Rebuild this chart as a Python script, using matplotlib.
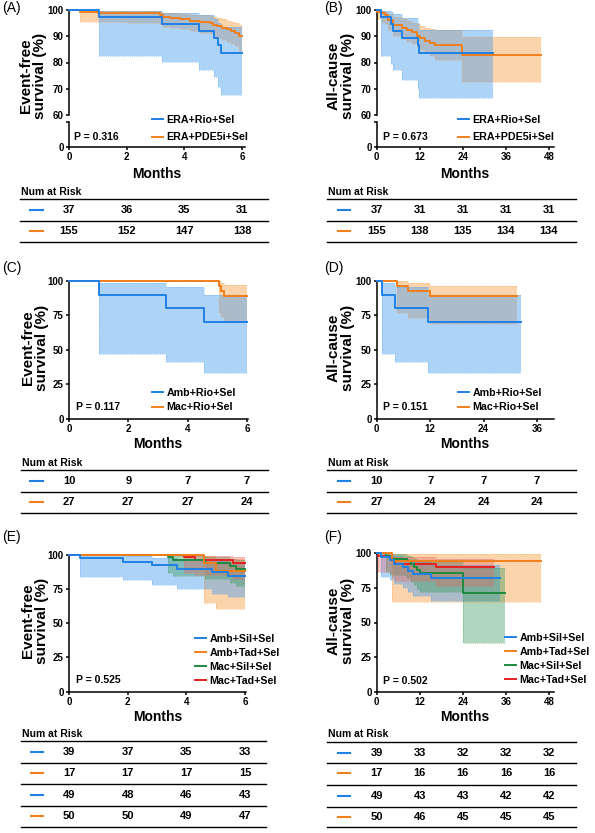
import matplotlib
matplotlib.use("Agg")
import matplotlib.pyplot as plt
from matplotlib.lines import Line2D
from matplotlib import transforms

plt.rcParams['font.family'] = ['Liberation Sans', 'DejaVu Sans']
plt.rcParams['font.weight'] = 'bold'
plt.rcParams['axes.labelweight'] = 'bold'

W, H = 595, 833
BLUE, ORANGE, GREEN, RED = '#2080e6', '#f07f1c', '#1e8a40', '#e62020'
FILLS = {BLUE: ('#4a9eef', 0.45), ORANGE: ('#f8a047', 0.45),
         GREEN: ('#3a9a5a', 0.40), RED: ('#f06060', 0.35)}
LINE_Z = {RED: 3.0, GREEN: 3.1, ORANGE: 3.2, BLUE: 3.3}

# ---------------- data ----------------
# panel A : event-free, months
A_rio_t = [1.04, 3.24, 4.51, 5.04, 5.17, 5.26]
A_rio_s = [97.3, 94.6, 91.9, 89.2, 86.5, 83.8]
A_rio_lo = [82.4, 80.2, 77.1, 74.6, 70.8, 67.6]
A_rio_hi = [99.6, 99.0, 98.0, 96.5, 95.0, 93.5]
A_rio_end = 6.0
A_pde_t = [0.38, 1.0, 2.0, 3.16, 3.27, 3.5, 3.85, 4.2, 4.54, 4.89, 5.0, 5.12, 5.3, 5.47, 5.6, 5.76, 5.9]
A_pde_s = [99.4, 99.0, 98.7, 98.0, 97.4, 97.0, 96.6, 96.0, 95.6, 95.0, 94.4, 93.8, 93.2, 92.6, 92.0, 91.3, 90.0]
A_pde_lo = [95.6, 95.4, 95.0, 94.3, 93.6, 93.1, 92.6, 91.9, 91.4, 90.7, 90.0, 89.3, 88.6, 87.9, 87.2, 86.4, 84.5]
A_pde_hi = [99.9, 99.8, 99.6, 99.3, 99.0, 98.8, 98.6, 98.2, 98.0, 97.6, 97.2, 96.8, 96.4, 96.0, 95.6, 95.0, 94.2]
A_pde_end = 6.0
A_ticks = [0, 2, 4, 6]
A_risk = [[37, 36, 35, 31], [155, 152, 147, 138]]

# panel B : all-cause, months
B_rio_t = [1.1, 3.9, 4.6, 7.0, 11.4, 11.9]
B_rio_s = [97.3, 94.6, 91.9, 89.2, 86.5, 83.8]
B_rio_lo = [82.3, 79.5, 77.1, 73.5, 70.0, 66.5]
B_rio_hi = [99.6, 99.2, 98.5, 97.0, 95.0, 92.4]
B_rio_end = 32.3
B_pde_t = [0.18, 1.39, 2.3, 3.24, 4.6, 6.96, 8.35, 9.74, 11.13, 12.06, 13.45, 14.85, 16.24, 23.9]
B_pde_s = [99.4, 98.7, 98.1, 96.2, 94.3, 93.3, 92.4, 91.5, 90.2, 89.2, 88.2, 87.6, 86.7, 83.0]
B_pde_lo = [96.4, 95.2, 94.5, 92.3, 90.2, 89.0, 88.0, 87.0, 86.0, 84.6, 83.5, 82.5, 80.8, 72.4]
B_pde_hi = [99.9, 99.7, 99.4, 98.4, 97.3, 96.6, 95.9, 95.2, 94.5, 93.8, 93.2, 92.8, 92.5, 89.8]
B_pde_end = 45.7
B_ticks = [0, 12, 24, 36, 48]
B_risk = [[37, 31, 31, 31, 31], [155, 138, 135, 134, 134]]

# panel C : event-free, months
C_amb_t = [1.02, 3.26, 4.54]
C_amb_s = [90.0, 80.0, 70.0]
C_amb_lo = [47.3, 41.0, 32.9]
C_amb_hi = [98.6, 95.2, 89.6]
C_amb_end = 6.0
C_mac_t = [5.06, 5.13, 5.21]
C_mac_s = [96.3, 92.6, 88.9]
C_mac_lo = [76.5, 73.5, 71.0]
C_mac_hi = [99.5, 98.1, 96.6]
C_mac_end = 6.0
C_ticks = [0, 2, 4, 6]
C_risk = [[10, 9, 7, 7], [27, 27, 27, 24]]

# panel D : all-cause, months
D_amb_t = [1.1, 4.0, 11.6]
D_amb_s = [90.0, 80.0, 70.0]
D_amb_lo = [47.3, 41.0, 32.9]
D_amb_hi = [98.6, 95.2, 89.6]
D_amb_end = 32.4
D_mac_t = [4.5, 7.0, 12.0]
D_mac_s = [96.3, 92.6, 88.9]
D_mac_lo = [76.5, 72.8, 68.7]
D_mac_hi = [99.5, 98.1, 96.4]
D_mac_end = 31.4
D_ticks = [0, 12, 24, 36]
D_risk = [[10, 7, 7, 7], [27, 24, 24, 24]]

# panel E : event-free, months
E_ambsil_t = [0.37, 1.85, 2.84, 3.69, 4.86, 5.43]
E_ambsil_s = [97.4, 94.9, 92.3, 89.7, 87.2, 84.6]
E_ambsil_lo = [83.5, 81.3, 78.1, 75.2, 71.6, 68.9]
E_ambsil_hi = [99.6, 98.9, 97.9, 96.6, 95.3, 93.8]
E_ambtad_t = [4.6, 5.02]
E_ambtad_s = [94.1, 88.2]
E_ambtad_lo = [65.0, 60.6]
E_ambtad_hi = [99.2, 96.9]
E_macsil_t = [3.36, 3.55, 4.62, 5.5, 5.68]
E_macsil_s = [98.0, 95.9, 93.9, 91.8, 89.8]
E_macsil_lo = [86.4, 84.4, 82.0, 79.4, 76.8]
E_macsil_hi = [99.7, 99.0, 98.0, 96.9, 95.8]
E_mactad_t = [3.92, 4.3, 5.6]
E_mactad_s = [98.0, 96.0, 94.0]
E_mactad_lo = [86.6, 85.0, 82.5]
E_mactad_hi = [99.7, 99.0, 98.0]
E_end = [6.0, 6.0, 6.0, 6.0]
E_ticks = [0, 2, 4, 6]
E_risk = [[39, 37, 35, 33], [17, 17, 17, 15], [49, 48, 46, 43], [50, 50, 49, 47]]

# panel F : all-cause, months
F_ambsil_t = [1.3, 3.6, 4.8, 7.4, 8.6, 10.0, 15.0]
F_ambsil_s = [97.4, 94.9, 92.3, 89.7, 87.2, 84.6, 82.1]
F_ambsil_lo = [83.0, 80.8, 77.8, 75.0, 72.1, 69.0, 65.2]
F_ambsil_hi = [99.6, 98.9, 97.9, 96.6, 95.3, 93.6, 91.4]
F_ambtad_t = [4.3]
F_ambtad_s = [94.1]
F_ambtad_lo = [65.0]
F_ambtad_hi = [99.2]
F_macsil_t = [2.5, 3.8, 8.5, 9.5, 10.5, 11.3, 12.2, 24.0]
F_macsil_s = [98.0, 95.9, 93.9, 91.8, 89.8, 87.8, 85.7, 71.4]
F_macsil_lo = [86.4, 84.4, 82.0, 79.4, 76.8, 74.4, 72.0, 35.5]
F_macsil_hi = [99.7, 99.0, 98.0, 96.9, 95.8, 94.5, 93.2, 89.3]
F_mactad_t = [0.3, 4.0, 4.4, 5.0, 16.6]
F_mactad_s = [98.0, 96.0, 94.0, 92.0, 89.8]
F_mactad_lo = [86.6, 85.0, 82.7, 80.2, 76.5]
F_mactad_hi = [99.7, 99.0, 98.0, 96.9, 95.6]
F_end = [34.3, 45.8, 35.8, 32.6]
F_ticks = [0, 12, 24, 36, 48]
F_risk = [[39, 33, 32, 32, 32], [17, 16, 16, 16, 16], [49, 43, 43, 42, 42], [50, 46, 45, 45, 45]]

lab2_era = ['ERA+Rio+Sel', 'ERA+PDE5i+Sel']
lab2_mr = ['Amb+Rio+Sel', 'Mac+Rio+Sel']
lab4 = ['Amb+Sil+Sel', 'Amb+Tad+Sel', 'Mac+Sil+Sel', 'Mac+Tad+Sel']
risk_colors2 = [BLUE, ORANGE]
risk_colors4 = [BLUE, ORANGE, BLUE, ORANGE]

fig = plt.figure(figsize=(W / 100, H / 100), dpi=100)


def add_ax(x0, y0, x1, y1):
    return fig.add_axes([x0 / W, 1 - y1 / H, (x1 - x0) / W, (y1 - y0) / H])


def px(x, y):
    return x / W, 1 - y / H


def style(ax, xlim, ylim, yticks, xticks=None):
    for s in ['top', 'right']:
        ax.spines[s].set_visible(False)
    for s in ['left', 'bottom']:
        ax.spines[s].set_linewidth(1.1)
    ax.set_xlim(xlim)
    ax.set_ylim(ylim)
    ax.set_yticks(yticks)
    if xticks is None:
        ax.spines['bottom'].set_visible(False)
        ax.set_xticks([])
    else:
        ax.set_xticks(xticks)
    ax.tick_params(direction='out', length=2.5, width=1.1, labelsize=7, pad=1.2)


def draw_groups(ax, groups):
    # groups: list of (t, s, lo, hi, end, color); fills drawn first
    order = sorted(range(len(groups)), key=lambda i: [ORANGE, BLUE, GREEN, RED].index(groups[i][5]))
    for i in order:
        t, s, lo, hi, end, c = groups[i]
        tt = [0] + t + [end]
        lo2 = [100] + lo + [lo[-1]]
        hi2 = [100] + hi + [hi[-1]]
        fc, al = FILLS[c]
        ax.fill_between(tt, lo2, hi2, step='post', color=fc, alpha=al, lw=0)
        for edge in (lo2, hi2):
            ax.step(tt, edge, where='post', color=fc, lw=0.5, ls=':', alpha=0.8)
    lines = []
    for t, s, lo, hi, end, c in groups:
        tt = [0] + t + [end]
        ln, = ax.step(tt, [100] + s + [s[-1]], where='post', color=c, lw=1.4,
                      clip_on=False, zorder=LINE_Z[c])
        lines.append(ln)
    return lines


def legend(ax, lines, labels, x, y, spacing):
    ax.legend(lines, labels, loc='upper left', bbox_to_anchor=px(x, y), bbox_transform=fig.transFigure,
              frameon=False, borderpad=0, borderaxespad=0, handlelength=1.0, handletextpad=0.35,
              labelspacing=spacing, prop={'size': 7.7, 'weight': 'bold'})


def risk_table(ax, ticks, risk, colors, x0, x1, y_title, line_ys, row_ys, dash):
    fig.text(*px(x0 + 1, y_title), 'Num at Risk', fontsize=7.5, fontweight='bold', va='center', ha='left')
    for ly in line_ys:
        fig.add_artist(Line2D([x0 / W, x1 / W], [1 - ly / H] * 2, transform=fig.transFigure,
                              color='black', lw=1.0))
    tr = transforms.blended_transform_factory(ax.transData, fig.transFigure)
    for row, c, ry in zip(risk, colors, row_ys):
        fig.add_artist(Line2D([dash[0] / W, dash[1] / W], [1 - ry / H] * 2, transform=fig.transFigure,
                              color=c, lw=1.5))
        for tk, n in zip(ticks, row):
            fig.text(tk, 1 - ry / H, str(n), transform=tr, ha='center', va='center',
                     fontsize=8, fontweight='bold')


def ylabel(text, x, y):
    fig.text(*px(x, y), text, rotation=90, ha='center', va='center', fontsize=11,
             fontweight='bold', multialignment='center', linespacing=1.0)


# ---------------- panel A ----------------
axA = add_ax(69, 10, 245, 115)
axA2 = add_ax(69, 122, 245, 147)
style(axA, (0, 6.1), (60, 100), [60, 70, 80, 90, 100])
style(axA2, (0, 6.1), (0, 1), [0, 1], A_ticks)
axA2.set_yticklabels(['0', ''])
linesA = draw_groups(axA, [(A_rio_t, A_rio_s, A_rio_lo, A_rio_hi, A_rio_end, BLUE),
                           (A_pde_t, A_pde_s, A_pde_lo, A_pde_hi, A_pde_end, ORANGE)])
legend(axA2, linesA, lab2_era, 152, 115, 0.70)
fig.text(*px(74, 137), 'P = 0.316', fontsize=7.5, fontweight='bold', va='center')
ylabel('Event-free\nsurvival (%)', 33, 76)
fig.text(*px(157, 174), 'Months', fontsize=10, fontweight='bold', ha='center', va='center')
risk_table(axA2, A_ticks, A_risk, risk_colors2, 20, 268, 192, [199, 221, 242], [210, 231], (30, 43))
fig.text(*px(2, 8), '(A)', fontsize=10, fontweight='normal', va='center')

# ---------------- panel B ----------------
axB = add_ax(376.7, 10, 554, 115)
axB2 = add_ax(376.7, 122, 554, 147)
style(axB, (0, 49.4), (60, 100), [60, 70, 80, 90, 100])
style(axB2, (0, 49.4), (0, 1), [0, 1], B_ticks)
axB2.set_yticklabels(['0', ''])
linesB = draw_groups(axB, [(B_rio_t, B_rio_s, B_rio_lo, B_rio_hi, B_rio_end, BLUE),
                           (B_pde_t, B_pde_s, B_pde_lo, B_pde_hi, B_pde_end, ORANGE)])
legend(axB2, linesB, lab2_era, 458, 115, 0.70)
fig.text(*px(383, 137), 'P = 0.673', fontsize=7.5, fontweight='bold', va='center')
ylabel('All-cause\nsurvival (%)', 341, 76)
fig.text(*px(465, 174), 'Months', fontsize=10, fontweight='bold', ha='center', va='center')
risk_table(axB2, B_ticks, B_risk, risk_colors2, 327, 576, 192, [199, 221, 242], [210, 231], (338, 350))
fig.text(*px(324, 8), '(B)', fontsize=10, fontweight='normal', va='center')

# ---------------- panel C ----------------
axC = add_ax(69, 280.7, 248, 419)
style(axC, (0, 6.03), (0, 100), [0, 25, 50, 75, 100], C_ticks)
linesC = draw_groups(axC, [(C_amb_t, C_amb_s, C_amb_lo, C_amb_hi, C_amb_end, BLUE),
                           (C_mac_t, C_mac_s, C_mac_lo, C_mac_hi, C_mac_end, ORANGE)])
legend(axC, linesC, lab2_mr, 152, 388, 0.42)
fig.text(*px(76, 407), 'P = 0.117', fontsize=7.5, fontweight='bold', va='center')
ylabel('Event-free\nsurvival (%)', 35, 348)
fig.text(*px(158, 444), 'Months', fontsize=10, fontweight='bold', ha='center', va='center')
risk_table(axC, C_ticks, C_risk, risk_colors2, 21, 268, 463, [470, 492, 513], [481, 502], (30, 43))
fig.text(*px(2, 268), '(C)', fontsize=10, fontweight='normal', va='center')

# ---------------- panel D ----------------
axD = add_ax(376.7, 280.7, 554, 419)
style(axD, (0, 39.8), (0, 100), [0, 25, 50, 75, 100], D_ticks)
linesD = draw_groups(axD, [(D_amb_t, D_amb_s, D_amb_lo, D_amb_hi, D_amb_end, BLUE),
                           (D_mac_t, D_mac_s, D_mac_lo, D_mac_hi, D_mac_end, ORANGE)])
legend(axD, linesD, lab2_mr, 458, 388, 0.42)
fig.text(*px(383, 407), 'P = 0.151', fontsize=7.5, fontweight='bold', va='center')
ylabel('All-cause\nsurvival (%)', 341, 348)
fig.text(*px(465, 444), 'Months', fontsize=10, fontweight='bold', ha='center', va='center')
risk_table(axD, D_ticks, D_risk, risk_colors2, 327, 576, 463, [470, 492, 513], [481, 502], (338, 350))
fig.text(*px(324, 268), '(D)', fontsize=10, fontweight='normal', va='center')

# ---------------- panel E ----------------
axE = add_ax(69, 554.7, 246, 691.7)
style(axE, (0, 6.03), (0, 100), [0, 25, 50, 75, 100], E_ticks)
linesE = draw_groups(axE, [
    (E_ambsil_t, E_ambsil_s, E_ambsil_lo, E_ambsil_hi, E_end[0], BLUE),
    (E_ambtad_t, E_ambtad_s, E_ambtad_lo, E_ambtad_hi, E_end[1], ORANGE),
    (E_macsil_t, E_macsil_s, E_macsil_lo, E_macsil_hi, E_end[2], GREEN),
    (E_mactad_t, E_mactad_s, E_mactad_lo, E_mactad_hi, E_end[3], RED)])
legend(axE, linesE, lab4, 195, 634, 0.36)
fig.text(*px(76, 680), 'P = 0.525', fontsize=7.5, fontweight='bold', va='center')
ylabel('Event-free\nsurvival (%)', 35, 621)
fig.text(*px(158, 717), 'Months', fontsize=10, fontweight='bold', ha='center', va='center')
risk_table(axE, E_ticks, E_risk, risk_colors4, 21, 266, 734, [741, 763, 784, 806, 827],
           [752, 773, 795, 816], (31, 43))
fig.text(*px(2, 537), '(E)', fontsize=10, fontweight='normal', va='center')

# ---------------- panel F ----------------
axF = add_ax(376.7, 553, 554, 692)
style(axF, (0, 49.4), (0, 100), [0, 25, 50, 75, 100], F_ticks)
linesF = draw_groups(axF, [
    (F_ambsil_t, F_ambsil_s, F_ambsil_lo, F_ambsil_hi, F_end[0], BLUE),
    (F_ambtad_t, F_ambtad_s, F_ambtad_lo, F_ambtad_hi, F_end[1], ORANGE),
    (F_macsil_t, F_macsil_s, F_macsil_lo, F_macsil_hi, F_end[2], GREEN),
    (F_mactad_t, F_mactad_s, F_mactad_lo, F_mactad_hi, F_end[3], RED)])
legend(axF, linesF, lab4, 505, 633, 0.36)
fig.text(*px(383, 681), 'P = 0.502', fontsize=7.5, fontweight='bold', va='center')
ylabel('All-cause\nsurvival (%)', 341, 621)
fig.text(*px(465, 717), 'Months', fontsize=10, fontweight='bold', ha='center', va='center')
risk_table(axF, F_ticks, F_risk, risk_colors4, 327, 576, 734, [741.7, 763.3, 785, 806.7, 827.3],
           [752.7, 773.3, 796, 817.3], (338, 350))
fig.text(*px(324, 537), '(F)', fontsize=10, fontweight='normal', va='center')

fig.savefig('out.png', dpi=100)
